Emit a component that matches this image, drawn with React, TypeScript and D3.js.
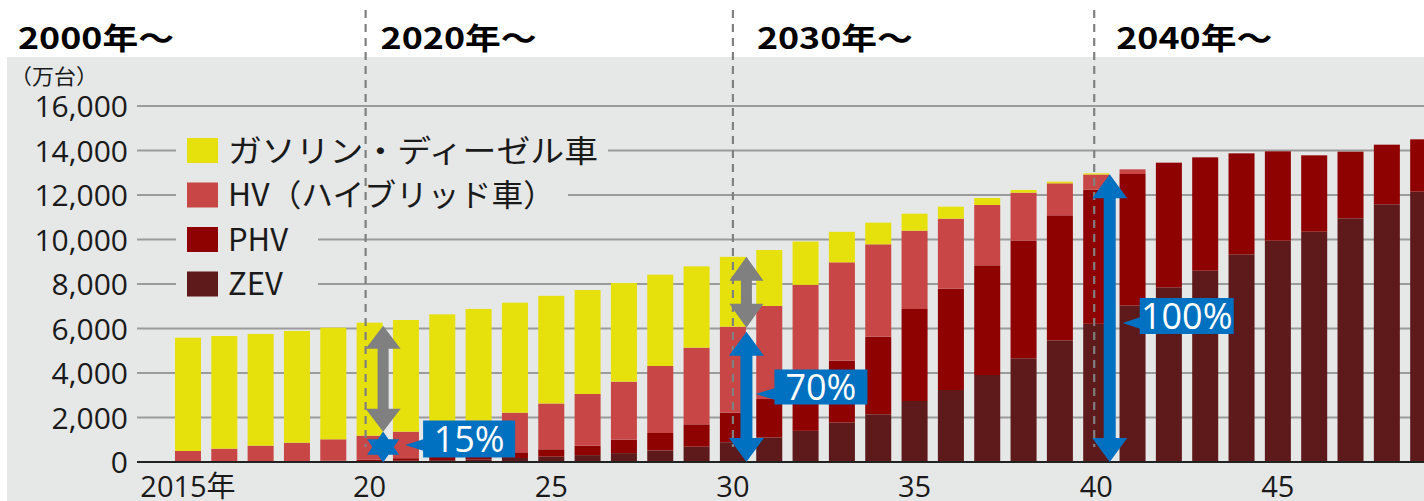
import React from "react";
import * as d3 from "d3";

// ---- data (万台) ----
const years = [2015, 2016, 2017, 2018, 2019, 2020, 2021, 2022, 2023, 2024, 2025, 2026, 2027, 2028, 2029, 2030, 2031, 2032, 2033, 2034, 2035, 2036, 2037, 2038, 2039, 2040, 2041, 2042, 2043, 2044, 2045, 2046, 2047, 2048, 2049];
const zev = [5, 8, 10, 15, 20, 40, 60, 80, 120, 180, 240, 310, 400, 520, 690, 890, 1100, 1400, 1775, 2143, 2742, 3236, 3910, 4660, 5468, 6210, 7030, 7850, 8598, 9334, 9948, 10351, 10951, 11581, 12150];
const phv = [15, 17, 25, 30, 40, 60, 110, 160, 210, 256, 330, 423, 603, 783, 1003, 1327, 1730, 2200, 2778, 3488, 4134, 4553, 4930, 5287, 5619, 6030, 5914, 5603, 5095, 4539, 4015, 3432, 2997, 2681, 2352];
const hv = [474, 573, 698, 822, 960, 1083, 1193, 1340, 1530, 1780, 2060, 2323, 2607, 3012, 3445, 3865, 4181, 4360, 4421, 4153, 3520, 3146, 2711, 2158, 1438, 680, 209, 0, 0, 0, 0, 0, 0, 0, 0];
const gas = [5093, 5065, 5020, 5021, 5016, 5079, 5019, 5057, 5020, 4944, 4838, 4674, 4435, 4105, 3656, 3138, 2517, 1950, 1371, 973, 764, 540, 314, 120, 75, 54, 0, 0, 0, 0, 0, 0, 0, 0, 0];

const yTicks = [0, 2000, 4000, 6000, 8000, 10000, 12000, 14000, 16000];
const xTickYears = [2015, 2020, 2025, 2030, 2035, 2040, 2045];
const xTickLabels = ["2015年", "20", "25", "30", "35", "40", "45"];
const eraYears = [2000, 2020, 2030, 2040];
const eraLabels = ["2000年〜", "2020年〜", "2030年〜", "2040年〜"];
const unitLabel = "（万台）";

const seriesKeys = ["zev", "phv", "hv", "gas"];
const legendNames = ["ガソリン・ディーゼル車", "HV（ハイブリッド車）", "PHV", "ZEV"];
const legendKeys = ["gas", "hv", "phv", "zev"];
const legendLevels = [14000, 12000, 10000, 8000];

const colors: Record<string, string> = {
  gas: "#e6e00c",
  hv: "#c84646",
  phv: "#8f0202",
  zev: "#5e191b",
};

const BG = "#e6e7e7";
const BLUE = "#0070c0";
const GRAY = "#808080";

function doubleArrow(cx: number, y1: number, y2: number, shaft: number, headW: number, headL: number) {
  const s = shaft / 2, h = headW / 2;
  return [
    [cx, y1], [cx + h, y1 + headL], [cx + s, y1 + headL], [cx + s, y2 - headL], [cx + h, y2 - headL],
    [cx, y2], [cx - h, y2 - headL], [cx - s, y2 - headL], [cx - s, y1 + headL], [cx - h, y1 + headL],
  ].map((p, i) => (i ? "L" : "M") + p[0] + "," + p[1]).join("") + "Z";
}

function starPath(cx: number, cy: number, R: number, sx: number) {
  const pts: string[] = [];
  for (let i = 0; i < 12; i++) {
    const a = (-90 + i * 30) * Math.PI / 180;
    const r = i % 2 === 0 ? R : R / Math.sqrt(3);
    pts.push((i ? "L" : "M") + (cx + r * Math.cos(a) * sx) + "," + (cy + r * Math.sin(a)));
  }
  return pts.join("") + "Z";
}

export default function App() {
  const W = 1424, H = 501;
  const step = 36.33;
  const x0 = 169.8;
  const x = d3.scaleBand<number>().domain(years).range([x0, x0 + years.length * step]).paddingInner(0.284).paddingOuter(0.142);
  const y = d3.scaleLinear().domain([0, 16000]).range([462, 106]);
  const bw = x.bandwidth();

  const rows = years.map((yr, i) => ({ year: yr, zev: zev[i], phv: phv[i], hv: hv[i], gas: gas[i] }));
  const stacked = d3.stack<any>().keys(seriesKeys)(rows);

  const idx = (yr: number) => years.indexOf(yr);
  const total = (yr: number) => { const i = idx(yr); return zev[i] + phv[i] + hv[i] + gas[i]; };
  const hvTop = (yr: number) => { const i = idx(yr); return zev[i] + phv[i] + hv[i]; };
  const edge = (yr: number) => (x(yr) as number) + bw + 0.5;
  const center = (yr: number) => (x(yr) as number) + bw / 2;

  const eraX = [4, center(2020) - 4, center(2030), center(2040) - 2];
  const eraTextOffset = [14, 15, 24, 22];

  const legendMaskW = [432, 392, 142, 142];
  const legendTextLen = [370, 327, 0, 0];

  // annotation labels
  const labels = [
    { year: 2020, text: "15%", cy: 445, tip: 22, box: 40, w: 92, h: 37 },
    { year: 2030, text: "70%", cy: 394, tip: 9, box: 28, w: 93, h: 35 },
    { year: 2040, text: "100%", cy: 323, tip: 13, box: 30, w: 94, h: 36 },
  ];

  return (
    <svg width={W} height={H} style={{ position: "absolute", left: 0, top: 0, background: "#fff" }}>
      <rect x={7} y={57} width={W - 7} height={H - 57} fill={BG} />
      {/* gridlines */}
      {yTicks.filter((t) => t > 0).map((t) => (
        <line key={t} x1={137} x2={W} y1={y(t)} y2={y(t)} stroke="#9b9b9b" strokeWidth={2} />
      ))}
      {/* y tick labels */}
      {yTicks.map((t) => (
        <text key={t} x={128} y={y(t) + 11} textAnchor="end" fontFamily="'Open Sans', sans-serif" fontSize={30} fill="#1a1a1a">
          {d3.format(",")(t)}
        </text>
      ))}
      <text x={10} y={84} fontFamily="'Noto Sans CJK JP', sans-serif" fontSize={21} fill="#1a1a1a" textLength={88} lengthAdjust="spacingAndGlyphs">{unitLabel}</text>
      {/* legend */}
      {legendKeys.map((k, i) => {
        const cy = y(legendLevels[i]);
        return (
          <g key={k}>
            <rect x={176} y={cy - 17} width={legendMaskW[i]} height={34} fill={BG} />
            <rect x={187} y={cy - 12.5} width={31} height={25} fill={colors[k]} />
            <text x={228} y={cy + 11} fontFamily="'Noto Sans CJK JP', sans-serif" fontSize={31} fill="#1a1a1a"
              {...(legendTextLen[i] ? { textLength: legendTextLen[i], lengthAdjust: "spacingAndGlyphs" } : {})}>
              {legendNames[i]}
            </text>
          </g>
        );
      })}
      {/* bars */}
      {stacked.map((s) => (
        <g key={s.key} fill={colors[s.key]}>
          {s.map((d: any) => (
            d[1] - d[0] > 0 ? (
              <rect key={d.data.year} x={x(d.data.year)} y={y(d[1])} width={bw} height={y(d[0]) - y(d[1])} />
            ) : null
          ))}
        </g>
      ))}
      {/* zero axis */}
      <line x1={137} x2={W} y1={y(0)} y2={y(0)} stroke="#222" strokeWidth={2.2} />
      {/* x tick labels */}
      {xTickYears.map((yr, i) => (
        <text key={yr} x={center(yr)} y={497} textAnchor="middle" fontFamily="'Open Sans', 'Noto Sans CJK JP', sans-serif" fontSize={29} fill="#1a1a1a">
          {xTickLabels[i]}
        </text>
      ))}
      {/* era dashed lines */}
      {eraYears.slice(1).map((yr, i) => (
        <line key={yr} x1={eraX[i + 1]} x2={eraX[i + 1]} y1={10} y2={447} stroke={GRAY} strokeWidth={2.2} strokeDasharray="8 6" />
      ))}
      {/* era headings */}
      {eraLabels.map((t, i) => (
        <text key={t} x={eraX[i] + eraTextOffset[i]} y={49} fontFamily="'Noto Sans CJK JP', sans-serif" fontWeight={700} fontSize={30} fill="#000"
          textLength={156} lengthAdjust="spacingAndGlyphs">
          {t}
        </text>
      ))}
      {/* arrows */}
      <path d={doubleArrow(edge(2020), y(total(2020)) + 3, y(hvTop(2020)) - 4, 11, 35, 23)} fill={GRAY} />
      <path d={starPath(edge(2020), 447, 15.5, 1.2)} fill={BLUE} />
      <path d={doubleArrow(edge(2030), y(total(2030)), y(hvTop(2030)) + 1, 11, 34, 24)} fill={GRAY} />
      <path d={doubleArrow(edge(2030), y(hvTop(2030)) + 5, y(0), 12, 35, 24)} fill={BLUE} />
      <path d={doubleArrow(edge(2040), y(total(2040)) + 1, y(0), 12, 35, 24)} fill={BLUE} />
      {labels.map((l) => {
        const ax = edge(l.year);
        const bx = ax + l.box;
        return (
          <g key={l.text}>
            <path d={`M${ax + l.tip},${l.cy}L${bx + 1},${l.cy - 6}L${bx + 1},${l.cy + 6}Z`} fill={BLUE} />
            <rect x={bx} y={l.cy - l.h / 2 - 7 + (l.year === 2020 ? 1 : 0)} width={l.w} height={l.h} fill={BLUE} />
            <text x={bx + l.w / 2} y={l.cy - 7 + l.h / 2 - 5} textAnchor="middle" fontFamily="'Open Sans', sans-serif" fontSize={36} fill="#fff">
              {l.text}
            </text>
          </g>
        );
      })}
    </svg>
  );
}
